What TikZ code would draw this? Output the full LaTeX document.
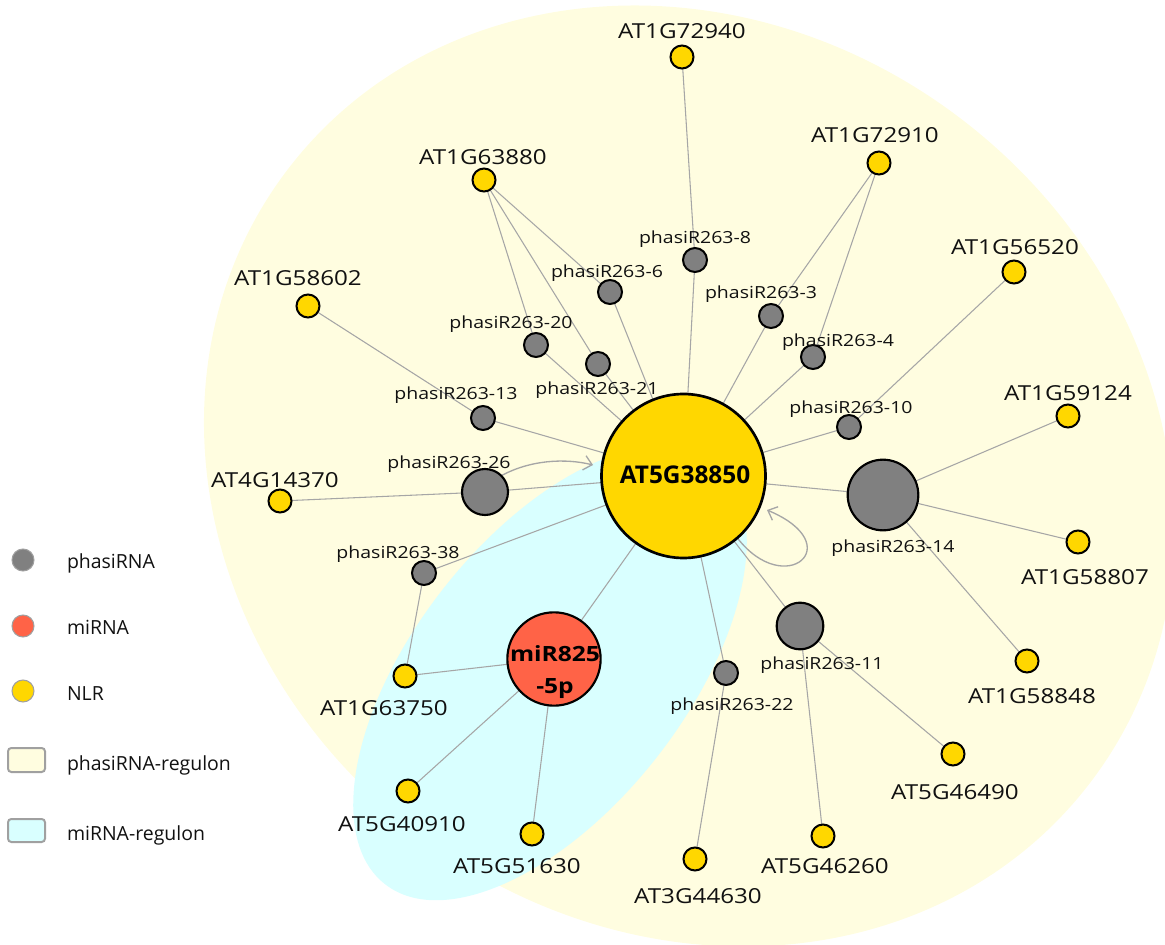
\documentclass[tikz,border=0pt]{standalone}
\usepackage{fontspec}
\setmainfont{Open Sans}
\newfontfamily\labfont[FakeStretch=1.17]{Open Sans}
\usetikzlibrary{arrows.meta}
\definecolor{nlrc}{HTML}{FFD700}
\definecolor{phasc}{HTML}{808080}
\definecolor{mirc}{HTML}{FF6347}
\definecolor{ybg}{HTML}{FFFDE0}
\definecolor{cbg}{HTML}{D9FFFF}
\definecolor{edgec}{HTML}{A6A6A6}
\definecolor{txt}{HTML}{111111}
\definecolor{legline}{HTML}{A0A0A0}
\pgfdeclarelayer{back}
\pgfdeclarelayer{edgelayer}
\pgfsetlayers{back,edgelayer,main}
\begin{document}
\begin{tikzpicture}[x=0.75pt,y=-0.75pt,
  every node/.style={inner sep=0pt,outer sep=0pt},
  nlr/.style={circle,draw=black,line width=1.5pt,fill=nlrc,minimum size=17.25pt},
  phsmall/.style={circle,draw=black,line width=1.5pt,fill=phasc,minimum size=18pt},
  phbig/.style={circle,draw=black,line width=1.6pt,fill=phasc},
  nlrlab/.style={font=\labfont\fontsize{15.5}{18}\selectfont,text=txt,anchor=base},
  phlab/.style={font=\labfont\fontsize{12.5}{15}\selectfont,text=txt,anchor=base},
  edge/.style={draw=edgec,line width=0.8pt},
  arrowedge/.style={draw=edgec,line width=1pt,-{Straight Barb[length=6pt,width=11pt]}},
  legdot/.style={circle,draw=legline,line width=0.8pt,minimum size=16.5pt},
  legbox/.style={draw=legline,line width=1.5pt,rounded corners=2.5pt},
  legtext/.style={font=\fontsize{14.6}{17}\selectfont,text=txt,anchor=base west}
]
\useasboundingbox (0,0) rectangle (1165,945);
\begin{pgfonlayer}{back}
\begin{scope}
\clip (0,0) rectangle (1165,945);
\begin{scope}[shift={(689,476)},rotate=-37.5]
\fill[ybg] (0,0) ellipse [x radius=505,y radius=449];
\end{scope}
\begin{scope}[shift={(550,673)},rotate=52]
\fill[cbg] (0,0) ellipse [x radius=268,y radius=136];
\end{scope}
\end{scope}
\end{pgfonlayer}

% central nodes
\node[circle,draw=black,line width=2pt,fill=nlrc,minimum size=123pt] (hub) at (683.5,476) {};
\node[anchor=base,font=\bfseries\fontsize{18.3}{20}\selectfont,text=black] (hublab) at (685,483) {AT5G38850};
\node[circle,draw=black,line width=1.6pt,fill=mirc,minimum size=70pt] (mir) at (554,659) {};
\node[anchor=base,align=center,font=\labfont\bfseries\fontsize{15.75}{24}\selectfont,text=black] (mirlab) at (555,693) {miR825\\-5p};

% phasiRNA nodes
\node[phbig,minimum size=53pt] (n14) at (883,495) {};
\node[phbig,minimum size=35pt] (n11) at (800,626) {};
\node[phbig,minimum size=34.5pt] (n26) at (485,492) {};
\node[phsmall] (n22) at (726,673) {};
\node[phsmall] (n8) at (695,260) {};
\node[phsmall] (n6) at (610,292) {};
\node[phsmall] (n20) at (536,345) {};
\node[phsmall] (n21) at (598,364) {};
\node[phsmall] (n13) at (483,418) {};
\node[phsmall] (n38) at (424,573) {};
\node[phsmall] (n3) at (771,316) {};
\node[phsmall] (n4) at (813,357) {};
\node[phsmall] (n10) at (849,427) {};

% NLR nodes
\node[nlr] (g72940) at (682,57) {};
\node[nlr] (g72910) at (879,163) {};
\node[nlr] (g63880) at (484,180) {};
\node[nlr] (g56520) at (1014,272) {};
\node[nlr] (g58602) at (308,306) {};
\node[nlr] (g59124) at (1068,416) {};
\node[nlr] (g14370) at (280,501) {};
\node[nlr] (g58807) at (1078,542) {};
\node[nlr] (g58848) at (1027,661) {};
\node[nlr] (g63750) at (405,676) {};
\node[nlr] (g40910) at (408,791) {};
\node[nlr] (g51630) at (532,834) {};
\node[nlr] (g44630) at (695,859) {};
\node[nlr] (g46260) at (823,836) {};
\node[nlr] (g46490) at (953,754) {};

% NLR labels
\node[nlrlab] (l72940) at (682,39) {AT1G72940};
\node[nlrlab] (l72910) at (875,143) {AT1G72910};
\node[nlrlab] (l63880) at (483,165) {AT1G63880};
\node[nlrlab] (l56520) at (1015,255) {AT1G56520};
\node[nlrlab] (l58602) at (298,286) {AT1G58602};
\node[nlrlab] (l59124) at (1068,400) {AT1G59124};
\node[nlrlab] (l14370) at (275,487) {AT4G14370};
\node[nlrlab] (l58807) at (1085,584) {AT1G58807};
\node[nlrlab] (l58848) at (1032,703) {AT1G58848};
\node[nlrlab] (l63750) at (384,715) {AT1G63750};
\node[nlrlab] (l40910) at (402,831) {AT5G40910};
\node[nlrlab] (l51630) at (517,873) {AT5G51630};
\node[nlrlab] (l44630) at (698,903) {AT3G44630};
\node[nlrlab] (l46260) at (825,873) {AT5G46260};
\node[nlrlab] (l46490) at (955,799) {AT5G46490};

% phasiRNA labels
\node[phlab] (p8) at (695,244) {phasiR263-8};
\node[phlab] (p6) at (607,278) {phasiR263-6};
\node[phlab] (p3) at (761,299) {phasiR263-3};
\node[phlab] (p4) at (838,346) {phasiR263-4};
\node[phlab] (p20) at (511,329) {phasiR263-20};
\node[phlab] (p21) at (597,394) {phasiR263-21};
\node[phlab] (p13) at (456,399) {phasiR263-13};
\node[phlab] (p10) at (851,413) {phasiR263-10};
\node[phlab] (p26) at (449,468) {phasiR263-26};
\node[phlab] (p38) at (398,558) {phasiR263-38};
\node[phlab] (p14) at (893,552) {phasiR263-14};
\node[phlab] (p11) at (822,669) {phasiR263-11};
\node[phlab] (p22) at (732,710) {phasiR263-22};

% arrow end points
\coordinate (a26) at (593,465);
\coordinate (aloop) at (767,510);

\begin{pgfonlayer}{edgelayer}
\draw[edge] (hub) -- (n8);  \draw[edge] (n8) -- (g72940);
\draw[edge] (hub) -- (n3);  \draw[edge] (n3) -- (g72910);
\draw[edge] (hub) -- (n4);  \draw[edge] (n4) -- (g72910);
\draw[edge] (hub) -- (n10); \draw[edge] (n10) -- (g56520);
\draw[edge] (hub) -- (n14); \draw[edge] (n14) -- (g59124);
\draw[edge] (n14) -- (g58807); \draw[edge] (n14) -- (g58848);
\draw[edge] (hub) -- (n11); \draw[edge] (n11) -- (g46260);
\draw[edge] (n11) -- (g46490);
\draw[edge] (hub) -- (n22); \draw[edge] (n22) -- (g44630);
\draw[edge] (hub) -- (mir); \draw[edge] (mir) -- (g63750);
\draw[edge] (mir) -- (g40910); \draw[edge] (mir) -- (g51630);
\draw[edge] (hub) -- (n38); \draw[edge] (n38) -- (g63750);
\draw[edge] (hub) -- (n26); \draw[edge] (n26) -- (g14370);
\draw[edge] (hub) -- (n13); \draw[edge] (n13) -- (g58602);
\draw[edge] (hub) -- (n20); \draw[edge] (n20) -- (g63880);
\draw[edge] (hub) -- (n21); \draw[edge] (n21) -- (g63880);
\draw[edge] (hub) -- (n6);  \draw[edge] (n6) -- (g63880);
\draw[arrowedge] (n26.45) .. controls (530,460) and (565,458) .. (a26);
\draw[arrowedge] (hub.-49) .. controls (785,600) and (850,545) .. (aloop);
\end{pgfonlayer}

% legend
\node[legdot,fill=phasc] (ld1) at (23,560) {};
\node[legdot,fill=mirc] (ld2) at (23,626) {};
\node[legdot,fill=nlrc] (ld3) at (23,691) {};
\draw[legbox,fill=ybg] (8,748) rectangle (45,772);
\draw[legbox,fill=cbg] (8,819) rectangle (45,842);
\node[legtext] (lt1) at (67,568) {phasiRNA};
\node[legtext] (lt2) at (67,634) {miRNA};
\node[legtext] (lt3) at (67,700) {NLR};
\node[legtext] (lt4) at (67,770) {phasiRNA-regulon};
\node[legtext] (lt5) at (67,840) {miRNA-regulon};
\end{tikzpicture}
\end{document}
